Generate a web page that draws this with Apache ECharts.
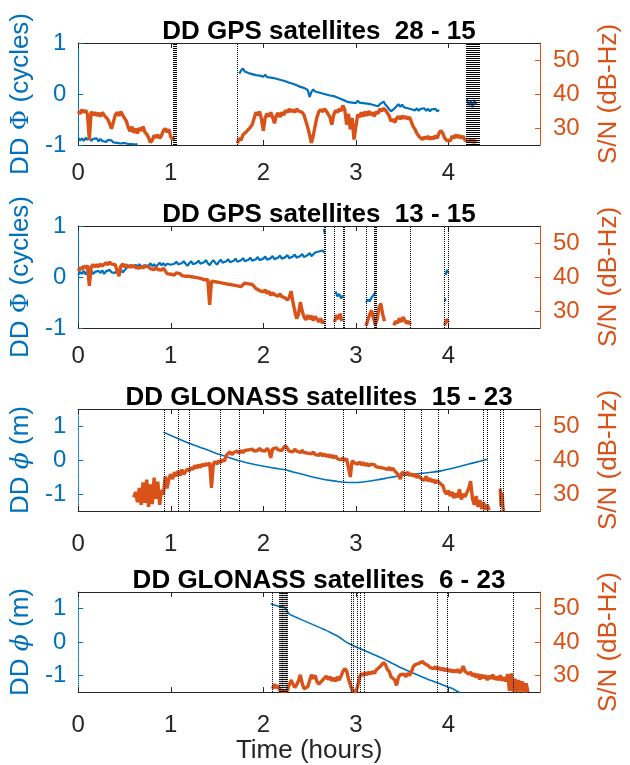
<!DOCTYPE html>
<html>
<head>
<meta charset="utf-8">
<script src="https://cdn.jsdelivr.net/npm/echarts@6/dist/echarts.min.js"></script>
<style>
  html, body { margin: 0; padding: 0; background: #ffffff; }
  #chart { width: 630px; height: 765px; }
</style>
</head>
<body>
<div id="chart"></div>
<script>
// ---- Axis ticks ----
const hourTicks = [0, 1, 2, 3, 4];
const snrTicks = [30, 40, 50];
const phaseTicks = [-1, 0, 1];

// ---- Panel titles ----
const titles = [
  'DD GPS satellites  28 - 15',
  'DD GPS satellites  13 - 15',
  'DD GLONASS satellites  15 - 23',
  'DD GLONASS satellites  6 - 23'
];

// ---- GPS 28 - 15 ----
const gps2815SnrA = [35.0,34.2,35.4,34.6,35.2,34.0,26.5,34.8,33.8,34.6,33.6,34.4,33.4,34.6,33.8,34.2,32.5,31.2,29.8,29.4,
  33.8,34.6,33.6,34.8,33.8,34.2,32.0,30.2,29.0,30.4,28.6,29.8,28.4,30.0,29.2,30.4,28.8,28.2,27.2,25.8,
  26.4,27.8,27.2,28.0,27.0,27.8,29.2,29.8,28.8,29.6,27.4,26.6,27.2];
const gps2815SnrB = [25.5,27.0,26.4,28.0,27.6,29.0,28.6,30.2,31.0,32.8,
  34.6,33.8,34.8,32.6,29.2,33.0,34.2,33.4,34.6,33.2,
  31.4,33.6,34.4,33.2,34.6,33.8,35.2,34.6,35.6,34.8,
  35.4,34.6,35.6,35.0,35.4,34.6,33.8,32.0,30.2,28.0,
  25.6,27.8,30.6,33.2,34.8,35.4,34.8,35.6,35.0,35.4,
  33.2,31.0,33.8,35.2,34.6,35.6,35.0,36.6,35.4,31.0,
  34.2,29.6,33.0,26.6,30.4,34.0,33.2,34.6,33.4,34.8,
  33.6,35.0,33.8,34.6,33.4,34.8,34.2,35.6,35.0,35.8,
  35.2,35.6,33.6,32.0,32.6,31.6,32.8,33.4,32.6,33.6,
  32.8,33.4,32.6,33.2,31.8,30.4,29.6,28.4,27.6,27.2,
  26.6,27.4,26.8,27.6,26.6,27.4,26.8,27.8,27.0,28.6,
  29.2,28.4,27.0,26.4,26.8,26.2,27.6,27.0,28.0,27.2,
  27.8,27.0,27.6,26.4,26.8,26.0,26.6,25.8,26.4,25.6];
const gps2815PhaseA = [-0.86,-0.91,-0.87,-0.92,-0.86,-0.90,-0.85,-0.92,-0.88,-0.91,-0.87,-0.93,-0.88,-0.92,-0.89,-0.94,
  -0.90,-0.93,-0.91,-0.95,-0.92,-0.96,-0.93,-0.97,-0.94,-0.96,-0.95,-0.98,-0.96,-0.98,-0.97,-0.99,-0.98];
const gps2815PhaseB = [0.40,0.46,0.50,0.44,0.47,0.41,0.44,0.39,0.42,0.37,
  0.40,0.36,0.39,0.34,0.38,0.33,0.36,0.32,0.35,0.31,
  0.33,0.29,0.32,0.27,0.30,0.25,0.27,0.22,0.25,0.20,
  0.22,0.17,0.19,0.14,0.16,0.12,0.14,0.08,-0.06,0.04,
  0.09,0.05,0.08,0.03,0.06,0.01,0.04,-0.01,0.02,-0.03,
  0.00,-0.04,-0.02,-0.07,-0.05,-0.10,-0.08,-0.13,-0.11,-0.16,
  -0.13,-0.17,-0.14,-0.18,-0.13,-0.17,-0.14,-0.18,-0.15,-0.19,
  -0.16,-0.20,-0.18,-0.22,-0.19,-0.24,-0.20,-0.23,-0.15,-0.21,
  -0.25,-0.30,-0.34,-0.36,-0.28,-0.24,-0.20,-0.25,-0.21,-0.26,
  -0.23,-0.28,-0.25,-0.30,-0.27,-0.32,-0.28,-0.33,-0.29,-0.32,
  -0.28,-0.33,-0.29,-0.34,-0.30,-0.33,-0.29,-0.34,-0.31];
const gps2815PhaseC = [-0.10,-0.22,-0.14,-0.26,-0.12,-0.20];
const gps2815Slips = [1.035,1.040,1.045,1.050,1.055,1.060,1.065,1.723,
  4.190,4.198,4.206,4.214,4.222,4.230,4.238,4.246,4.254,4.262,4.270,4.278,4.286,4.294,4.302,4.310,4.318,4.326];

// ---- GPS 13 - 15 ----
const gps1315SnrA = [41.8,42.8,42.2,43.2,42.6,43.4,37.4,43.0,43.6,43.0,
  43.6,43.0,43.8,43.2,43.6,44.2,43.6,44.4,43.8,44.2,
  43.6,44.0,40.2,43.2,43.8,43.0,43.6,42.8,43.4,42.8,
  43.4,42.8,43.2,42.6,43.2,42.6,43.2,42.8,43.0,42.4,
  42.8,42.2,42.8,42.2,42.6,42.0,42.6,41.8,41.0,41.2,
  40.8,41.2,40.6,41.2,40.8,41.0,40.4,40.8,40.2,40.6,
  40.2,40.6,40.0,40.4,39.8,40.2,39.6,39.8,39.2,39.6,
  39.2,31.8,38.8,39.2,38.6,39.0,38.4,38.8,38.2,38.6,
  38.0,38.4,37.8,38.2,37.6,38.0,37.4,37.8,37.2,37.6,
  38.2,38.6,38.0,38.4,37.8,38.2,36.6,37.0,36.0,36.4,
  35.6,36.2,35.2,35.8,34.6,35.4,34.8,35.2,34.4,35.0,
  34.2,34.6,33.8,33.2,34.0,35.8,32.6,30.0,27.8,29.0,
  32.6,30.0,28.2,27.4,28.8,27.6,28.6,27.2,28.4,27.6,
  26.8,27.8,26.4,27.2];
const gps1315SnrB = [26.8,28.8,27.6,29.2,27.0];
const gps1315SnrC = [25.6,27.4,29.0,30.2,28.0,26.0,27.6,31.0,32.2,29.0,27.0];
const gps1315SnrD = [25.8,27.0,26.4,27.8,26.8,28.2,27.2,26.4,27.0,26.0];
const gps1315SnrE = [25.8,27.6,26.6];
const gps1315PhaseA = [0.04,0.10,0.06,0.12,0.05,0.11,0.07,0.13,0.06,0.10,
  0.07,0.12,0.08,0.13,0.06,0.11,0.08,0.14,0.09,0.12,
  0.08,0.13,0.10,0.15,0.09,0.12,0.17,0.21,0.18,0.23,
  0.19,0.24,0.20,0.25,0.21,0.18,0.23,0.26,0.22,0.27,
  0.21,0.25,0.20,0.24,0.28,0.23,0.27,0.22,0.26,0.29,
  0.24,0.21,0.26,0.30,0.25,0.22,0.27,0.31,0.26,0.22,
  0.27,0.31,0.25,0.22,0.28,0.32,0.26,0.23,0.29,0.33,
  0.27,0.23,0.29,0.33,0.28,0.24,0.30,0.34,0.28,0.25,
  0.31,0.35,0.29,0.26,0.32,0.36,0.30,0.27,0.33,0.37,
  0.31,0.28,0.34,0.38,0.32,0.29,0.35,0.39,0.33,0.30,
  0.36,0.40,0.34,0.31,0.37,0.41,0.35,0.32,0.38,0.42,
  0.36,0.33,0.39,0.43,0.37,0.34,0.40,0.44,0.38,0.35,
  0.41,0.45,0.39,0.37,0.43,0.47,0.41,0.44,0.48,0.46,
  0.50,0.47,0.52,0.48];
const gps1315PhaseB = [0.94,0.84];
const gps1315PhaseC = [-0.28,-0.38,-0.33,-0.42,-0.36];
const gps1315PhaseD = [-0.50,-0.44,-0.48,-0.40,-0.36,-0.30];
const gps1315PhaseE = [-0.42,-0.48];
const gps1315PhaseF = [0.04,0.14,0.08];
const gps1315Slips = [2.659,2.670,2.768,2.857,2.870,3.110,3.199,3.210,3.220,3.588,3.965,4.004];

// ---- GLONASS 15 - 23 ----
const glo1523SnrA = [29.0,30.6,27.6,31.8,26.8,33.4,27.4,34.2,26.2,32.8,
  27.0,34.8,28.6,33.6,26.8,31.2,29.8,35.2,31.6,34.6,
  35.8,34.4,36.4,35.2,36.8,35.4,37.2,35.8,36.6,37.4,
  36.8,37.8,37.2,38.4,37.6,38.6,37.8,38.8,38.2,39.0,
  38.4,39.2,31.8,38.8,39.6,38.8,39.8,39.2,40.2,39.6,
  41.4,41.8,42.4,41.6,42.2,41.8,42.6,42.0,42.8,42.2,
  42.8,42.4,43.0,42.6,43.2,42.6,43.0,42.8,43.4,42.8,
  43.2,42.6,43.4,42.8,40.6,43.2,42.8,43.6,43.0,43.4,
  42.8,43.6,44.2,43.4,42.6,43.0,42.4,43.2,42.6,42.8,
  42.2,42.8,42.2,42.6,42.0,42.4,41.8,42.4,41.6,42.0,
  41.4,42.0,41.2,41.8,41.0,41.6,40.8,41.4,40.6,41.2,
  40.4,40.8,40.0,40.6,39.8,40.4,40.0,35.0,39.8,39.2,
  39.6,38.8,39.4,38.6,39.2,38.4,39.0,38.2,38.8,38.4,
  38.6,38.0,38.4,37.8,38.2,37.6,38.0,37.2,37.8,37.0,
  37.6,36.8,37.2,35.6,34.4,36.4,36.8,35.8,36.4,35.4,
  36.0,35.2,35.8,34.8,35.4,34.6,34.8,34.0,35.2,33.8,
  34.6,33.6,34.2,33.2,34.0,33.4,33.6,32.4,30.8,30.0,
  31.0,29.4,30.6,28.8,30.2,29.0,31.4,28.4,30.0,29.2,
  30.4,31.6,33.8,28.6,26.8,29.4,26.2,28.2,25.6,27.6,
  25.4,26.8,25.2];
const glo1523SnrB = [31.6,26.4,30.4,25.8,25.0];
const glo1523PhaseA = [0.82,0.70,0.58,0.47,0.37,0.27,0.17,0.08,-0.01,-0.08,
  -0.14,-0.19,-0.24,-0.28,-0.35,-0.42,-0.49,-0.55,-0.60,-0.64,
  -0.66,-0.66,-0.63,-0.59,-0.54,-0.49,-0.45,-0.42,-0.39,-0.36,
  -0.32,-0.26,-0.19,-0.12,-0.05,0.02];
const glo1523PhaseB = [0.03,0.05];
const glo1523Slips = [0.932,1.080,1.204,1.532,1.741,2.239,2.857,3.517,3.711,3.888,4.382,4.424,4.559,4.594];

// ---- GLONASS 6 - 23 ----
const glo0623SnrA = [26.0,27.4,26.2,27.0,25.4,25.0,25.2,25.0,25.4,27.2,
  28.6,27.4,26.4,27.2,28.4,30.2,27.6,26.0,25.8,26.6,
  28.4,30.2,29.0,30.0,28.2,27.4,28.0,27.6,29.2,29.8,
  28.8,29.6,28.4,29.2,28.2,29.6,28.6,29.8,31.2,32.0,
  31.4,29.0,27.2,25.6,25.2,25.0,26.8,29.4,30.6,30.0,
  30.8,30.2,31.0,30.4,31.2,30.6,31.6,32.0,32.6,32.2,
  33.8,33.2,31.8,31.2,29.6,29.2,28.6,27.0,29.4,30.2,
  29.8,30.4,29.6,30.6,30.0,31.0,32.6,33.2,32.8,33.6,
  33.2,34.2,33.6,34.0,33.0,32.4,32.8,32.0,32.6,31.8,
  32.4,31.6,32.2,31.4,32.0,31.2,31.8,31.0,31.6,31.0,
  31.8,30.8,31.4,32.8,31.2,31.6,30.4,31.0,29.8,30.6,
  29.4,30.4,28.8,30.2,29.2,30.0,28.6,29.8,29.0,30.2,
  28.8,29.6,28.6,30.0,28.4,29.4,28.2,30.4,25.4,30.6,
  25.2,29.0,25.0,28.6,25.2,28.2,25.0,27.6,25.0];
const glo0623PhaseA = [1.15,1.10,1.06,1.03,0.84,0.77,0.71,0.65,0.59,0.53,
  0.47,0.41,0.35,0.28,0.21,0.13,0.03,-0.05,-0.12,-0.18,
  -0.24,-0.30,-0.36,-0.42,-0.48,-0.55,-0.62,-0.69,-0.76,-0.82,
  -0.88,-0.94,-1.00,-1.06,-1.12,-1.17,-1.22,-1.27,-1.33,-1.38,
  -1.45,-1.52];
const glo0623Slips = [2.097,2.175,2.183,2.191,2.199,2.207,2.215,2.223,2.231,2.239,2.247,2.255,2.263,
  2.952,2.970,3.022,3.047,3.086,3.881,3.987,4.700];

// ---- Panels: each segment gives its first sample time and the sampling step ----
const panels = [
  {
    title: titles[0], phaseName: 'DD {g|Φ} (cycles)', phaseRange: [-1, 1], labelMargin: 16,
    phase: [{ t0: 0.00, dt: 0.02, v: gps2815PhaseA }, { t0: 1.74, dt: 0.02, v: gps2815PhaseB }, { t0: 4.20, dt: 0.02, v: gps2815PhaseC }],
    snr: [{ t0: 0.00, dt: 0.02, v: gps2815SnrA }, { t0: 1.72, dt: 0.02, v: gps2815SnrB }],
    slips: gps2815Slips
  },
  {
    title: titles[1], phaseName: 'DD {g|Φ} (cycles)', phaseRange: [-1, 1], labelMargin: 16,
    phase: [{ t0: 0.00, dt: 0.02, v: gps1315PhaseA }, { t0: 2.655, dt: 0.01, v: gps1315PhaseB },
            { t0: 2.78, dt: 0.02, v: gps1315PhaseC }, { t0: 3.11, dt: 0.02, v: gps1315PhaseD },
            { t0: 3.963, dt: 0.004, v: gps1315PhaseE }, { t0: 3.97, dt: 0.015, v: gps1315PhaseF }],
    snr: [{ t0: 0.00, dt: 0.02, v: gps1315SnrA }, { t0: 2.77, dt: 0.02, v: gps1315SnrB },
          { t0: 3.11, dt: 0.02, v: gps1315SnrC }, { t0: 3.41, dt: 0.02, v: gps1315SnrD },
          { t0: 3.96, dt: 0.02, v: gps1315SnrE }],
    slips: gps1315Slips
  },
  {
    title: titles[2], phaseName: 'DD {p|ϕ} (m)', phaseRange: [-1.5, 1.5], labelMargin: 21,
    phase: [{ t0: 0.92, dt: 0.10, v: glo1523PhaseA }, { t0: 4.565, dt: 0.01, v: glo1523PhaseB }],
    snr: [{ t0: 0.60, dt: 0.02, v: glo1523SnrA }, { t0: 4.56, dt: 0.01, v: glo1523SnrB }],
    slips: glo1523Slips
  },
  {
    title: titles[3], phaseName: 'DD {p|ϕ} (m)', phaseRange: [-1.5, 1.5], labelMargin: 21,
    phase: [{ t0: 2.08, dt: 0.05, v: glo0623PhaseA }],
    snr: [{ t0: 2.10, dt: 0.02, v: glo0623SnrA }],
    slips: glo0623Slips
  }
];

const BLUE = '#0072BD';
const ORANGE = '#D95319';
const INK = '#262626';
const FONT = '"Liberation Sans", Arial, Helvetica, sans-serif';

const gridTops = [43, 226, 409, 592];
const GRID_H = 102;
const X_MAX = 4.99;

function toPoints(segs) {
  const out = [];
  segs.forEach((s, k) => {
    if (k > 0) out.push([s.t0, '-']);
    s.v.forEach((v, i) => out.push([+(s.t0 + i * s.dt).toFixed(4), v]));
  });
  return out;
}

const grid = [], xAxis = [], yAxis = [], series = [], title = [];

panels.forEach((p, i) => {
  const top = gridTops[i];
  const smoothPhase = i >= 2;
  grid.push({ left: 78, right: 80, top: top, height: GRID_H, containLabel: false });

  title.push({
    text: p.title, left: 314, top: top - 29, textAlign: 'center',
    textStyle: { fontFamily: FONT, fontSize: 26, fontWeight: 'bold', color: '#000000' }
  });

  const last = i === panels.length - 1;
  // bottom time axis
  xAxis.push({
    type: 'value', gridIndex: i, position: 'bottom', min: 0, max: X_MAX,
    axisLine: { show: true, onZero: false, lineStyle: { color: INK, width: 1 } },
    axisTick: { show: true, inside: true, length: 5, customValues: hourTicks, lineStyle: { color: INK } },
    axisLabel: { show: true, customValues: hourTicks, margin: p.labelMargin, fontFamily: FONT, fontSize: 24, color: INK },
    splitLine: { show: false },
    name: last ? 'Time (hours)' : '', nameLocation: 'middle', nameGap: 40,
    nameTextStyle: { fontFamily: FONT, fontSize: 26, color: INK }
  });
  // top frame axis
  xAxis.push({
    type: 'value', gridIndex: i, position: 'top', min: 0, max: X_MAX,
    axisLine: { show: true, onZero: false, lineStyle: { color: INK, width: 1 } },
    axisTick: { show: true, inside: true, length: 5, customValues: hourTicks, lineStyle: { color: INK } },
    axisLabel: { show: false },
    splitLine: { show: false }
  });
  // left phase axis
  yAxis.push({
    type: 'value', gridIndex: i, position: 'left', min: p.phaseRange[0], max: p.phaseRange[1],
    axisLine: { show: true, onZero: false, lineStyle: { color: BLUE, width: 1, type: smoothPhase ? 'dotted' : 'solid' } },
    axisTick: { show: true, inside: true, length: 5, customValues: phaseTicks, lineStyle: { color: BLUE } },
    axisLabel: { show: true, customValues: phaseTicks, margin: 12, fontFamily: FONT, fontSize: 24, color: BLUE },
    splitLine: { show: false },
    name: p.phaseName, nameLocation: 'middle', nameRotate: 90, nameGap: 44,
    nameTextStyle: {
      fontFamily: FONT, fontSize: 26, color: BLUE,
      rich: {
        g: { fontFamily: '"DejaVu Serif", serif', fontSize: 25, color: BLUE },
        p: { fontFamily: '"DejaVu Serif", serif', fontStyle: 'italic', fontSize: 25, color: BLUE }
      }
    }
  });
  // right S/N axis
  yAxis.push({
    type: 'value', gridIndex: i, position: 'right', min: 25, max: 55,
    axisLine: { show: true, onZero: false, lineStyle: { color: ORANGE, width: 1 } },
    axisTick: { show: true, inside: true, length: 5, customValues: snrTicks, lineStyle: { color: ORANGE } },
    axisLabel: { show: true, customValues: snrTicks, margin: 13, fontFamily: FONT, fontSize: 24, color: ORANGE },
    splitLine: { show: false },
    name: 'S/N (dB-Hz)', nameLocation: 'middle', nameRotate: 90, nameGap: 56,
    nameTextStyle: { fontFamily: FONT, fontSize: 26, color: ORANGE }
  });

  // cycle-slip markers
  series.push({
    type: 'line', xAxisIndex: 2 * i, yAxisIndex: 2 * i, data: [], z: 1, silent: true,
    markLine: {
      silent: true, symbol: ['none', 'none'], label: { show: false },
      lineStyle: { type: 'dotted', color: '#000000', width: 1 },
      data: p.slips.map(t => ({ xAxis: t }))
    }
  });
  // double-difference phase
  series.push({
    type: 'line', xAxisIndex: 2 * i, yAxisIndex: 2 * i, data: toPoints(p.phase),
    showSymbol: false, connectNulls: false, clip: true, z: 2,
    smooth: smoothPhase ? 0.3 : false,
    lineStyle: { color: BLUE, width: smoothPhase ? 1.6 : 2.2 }
  });
  // signal-to-noise ratio
  series.push({
    type: 'line', xAxisIndex: 2 * i, yAxisIndex: 2 * i + 1, data: toPoints(p.snr),
    showSymbol: false, connectNulls: false, clip: true, z: 3,
    lineStyle: { color: ORANGE, width: 3.4 }
  });
});

const chart = echarts.init(document.getElementById('chart'), null, { renderer: 'canvas' });
chart.setOption({
  backgroundColor: '#ffffff',
  animation: false,
  title: title,
  grid: grid,
  xAxis: xAxis,
  yAxis: yAxis,
  series: series
});
</script>
</body>
</html>
